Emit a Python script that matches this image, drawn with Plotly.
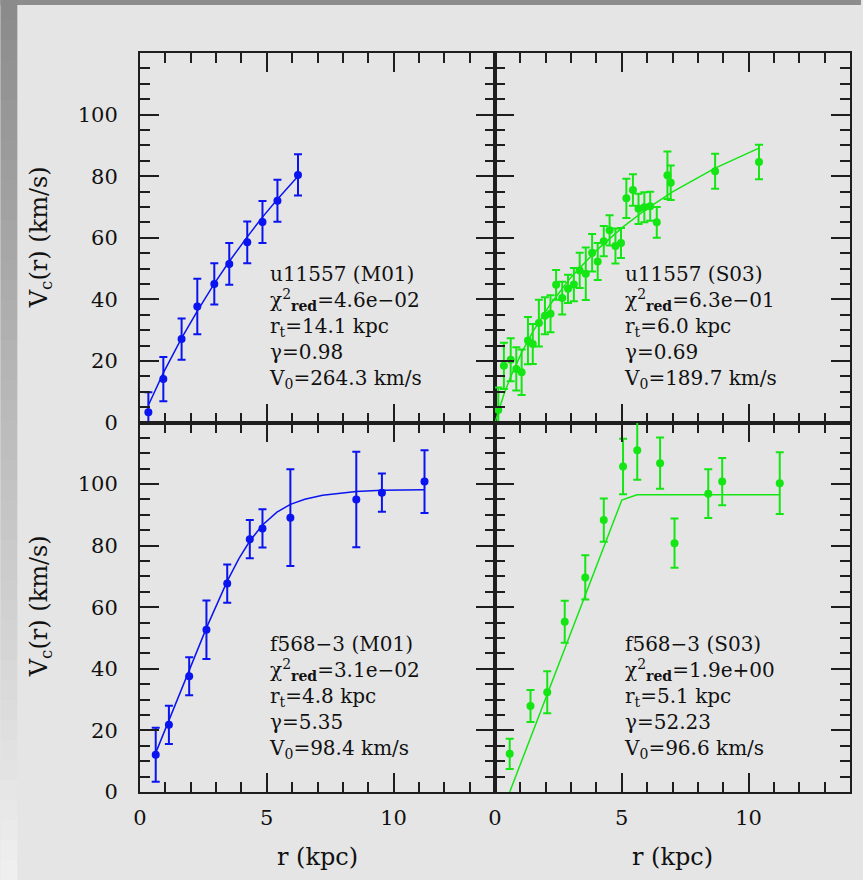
import plotly.graph_objects as go
from plotly.subplots import make_subplots

# ---------------- data ----------------
ul_r = [0.33, 0.92, 1.64, 2.26, 2.93, 3.52, 4.23, 4.83, 5.42, 6.23]
ul_v = [3.3, 14.1, 27.1, 37.7, 45.0, 51.5, 58.5, 65.1, 72.0, 80.4]
ul_e = [6.5, 7.2, 6.7, 9.0, 6.7, 6.8, 6.8, 6.8, 6.8, 6.7]
ul_fit_r = [0.33, 0.92, 1.64, 2.26, 2.93, 3.52, 4.23, 4.83, 5.42, 6.23]
ul_fit_v = [5.6, 16.1, 27.4, 36.2, 45.1, 52.3, 60.3, 66.7, 72.5, 80.0]

ur_r = [0.13, 0.35, 0.62, 0.84, 1.05, 1.30, 1.49, 1.73, 1.97, 2.19,
        2.41, 2.65, 2.88, 3.11, 3.34, 3.58, 3.83, 4.05, 4.29, 4.52,
        4.75, 4.97, 5.18, 5.44, 5.66, 5.89, 6.12, 6.38, 6.80, 6.93,
        8.68, 10.41]
ur_v = [4.1, 18.4, 20.4, 17.4, 16.3, 26.6, 25.5, 32.3, 34.7, 35.3,
        44.7, 40.4, 43.4, 44.8, 49.4, 48.3, 55.1, 52.3, 58.9, 62.4,
        57.3, 58.3, 72.8, 75.5, 69.4, 69.9, 70.2, 65.0, 80.3, 77.9,
        81.6, 84.6]
ur_e = [7.3, 7.5, 7.0, 7.0, 7.4, 7.7, 6.5, 7.6, 6.0, 6.0,
        4.8, 5.3, 4.6, 5.4, 5.7, 8.5, 6.1, 6.0, 4.9, 4.9,
        5.7, 4.9, 6.4, 5.1, 4.9, 4.9, 4.7, 5.0, 7.7, 5.6,
        5.7, 5.6]
ur_fit_r = [0.0, 0.35, 0.62, 1.05, 1.5, 2.19, 3.0, 4.0, 5.0, 6.0, 7.0, 8.68, 10.41]
ur_fit_v = [0.0, 9.1, 14.9, 22.7, 29.6, 38.5, 47.2, 55.9, 63.2, 69.5, 74.9, 82.6, 89.1]

ll_r = [0.62, 1.14, 1.94, 2.62, 3.44, 4.33, 4.83, 5.93, 8.53, 9.54, 11.22]
ll_v = [12.1, 21.8, 37.6, 52.7, 67.7, 82.1, 85.6, 89.1, 95.0, 97.2, 100.8]
ll_e = [8.8, 6.2, 6.2, 9.5, 6.2, 6.2, 6.2, 15.7, 15.5, 6.2, 10.2]
ll_fit_r = [0.62, 1.14, 1.94, 2.62, 3.44, 3.9, 4.33, 4.83, 5.4, 5.93, 6.5, 7.2, 8.53, 9.54, 11.22]
ll_fit_v = [12.7, 23.4, 39.7, 53.3, 68.5, 75.8, 81.5, 86.7, 90.9, 93.4, 95.1, 96.4, 97.6, 98.0, 98.2]

lr_r = [0.58, 1.40, 2.06, 2.75, 3.56, 4.29, 5.05, 5.61, 6.51, 7.08, 8.41, 8.96, 11.23]
lr_v = [12.4, 27.9, 32.4, 55.3, 69.7, 88.3, 105.7, 111.0, 106.8, 80.8, 96.9, 100.8, 100.3]
lr_e = [4.9, 5.2, 6.8, 6.8, 7.2, 7.0, 9.0, 9.6, 8.3, 8.0, 7.9, 7.7, 10.0]
lr_fit_r = [0.58, 5.0, 5.6, 11.23]
lr_fit_v = [0.0, 94.8, 96.5, 96.5]

ul_text = ["u11557 (M01)", "4.6e−02", "14.1 kpc", "0.98", "264.3 km/s"]
ur_text = ["u11557 (S03)", "6.3e−01", "6.0 kpc", "0.69", "189.7 km/s"]
ll_text = ["f568−3 (M01)", "3.1e−02", "4.8 kpc", "5.35", "98.4 km/s"]
lr_text = ["f568−3 (S03)", "1.9e+00", "5.1 kpc", "52.23", "96.6 km/s"]

x_ticks = [0, 5, 10]
y_ticks = [0, 20, 40, 60, 80, 100]

# ---------------- styling ----------------
BLUE = "#0a14f0"
GREEN = "#14e614"
INK = "#1e1e1e"
BG = "#e5e5e5"
FONT = "DejaVu Serif"

W, H = 863, 880
ML, MR, MT, MB = 140, 11, 53, 88

fig = make_subplots(rows=2, cols=2, horizontal_spacing=0, vertical_spacing=0)

panels = [
    (1, 1, ul_r, ul_v, ul_e, ul_fit_r, ul_fit_v, BLUE, ul_text),
    (1, 2, ur_r, ur_v, ur_e, ur_fit_r, ur_fit_v, GREEN, ur_text),
    (2, 1, ll_r, ll_v, ll_e, ll_fit_r, ll_fit_v, BLUE, ll_text),
    (2, 2, lr_r, lr_v, lr_e, lr_fit_r, lr_fit_v, GREEN, lr_text),
]

for i, (row, col, r, v, e, fr, fv, c, txt) in enumerate(panels):
    fig.add_trace(go.Scatter(x=fr, y=fv, mode="lines",
                             line=dict(color=c, width=1.5), showlegend=False,
                             hoverinfo="skip"), row=row, col=col)
    fig.add_trace(go.Scatter(x=r, y=v, mode="markers",
                             marker=dict(color=c, size=8, line=dict(width=0)),
                             error_y=dict(type="data", array=e, visible=True,
                                          color=c, thickness=2, width=4),
                             showlegend=False), row=row, col=col)
    xa = "x" if i == 0 else f"x{i+1}"
    ya = "y" if i == 0 else f"y{i+1}"
    block = "<br>".join([
        txt[0],
        "χ<sup>2</sup><sub><b>red</b></sub>=" + txt[1],
        "r<sub>t</sub>=" + txt[2],
        "γ=" + txt[3],
        "V<sub>0</sub>=" + txt[4],
    ])
    fig.add_annotation(x=5.0, y=31.0, xref=xa, yref=ya, text=block,
                       showarrow=False, xanchor="left", yanchor="middle",
                       align="left",
                       font=dict(family=FONT, size=20, color="#111"))

axis_common = dict(showgrid=False, zeroline=False, showline=True,
                   linecolor=INK, linewidth=2, mirror="allticks",
                   ticks="inside", ticklen=19, tickwidth=2, tickcolor=INK,
                   tickfont=dict(family=FONT, size=21, color="#111"))

for row in (1, 2):
    for col in (1, 2):
        fig.update_xaxes(range=[0, 14], tickmode="array", tickvals=x_ticks,
                         minor=dict(dtick=1, tick0=0, ticks="inside", ticklen=10,
                                    tickwidth=2, tickcolor=INK),
                         showticklabels=(row == 2), ticklabelstandoff=6,
                         row=row, col=col, **axis_common)
        fig.update_yaxes(range=[0, 120], tickmode="array", tickvals=y_ticks,
                         minor=dict(dtick=5, tick0=0, ticks="inside", ticklen=10,
                                    tickwidth=2, tickcolor=INK),
                         showticklabels=(col == 1), ticklabelstandoff=16,
                         row=row, col=col, **axis_common)

PW = W - ML - MR
PH = H - MT - MB


def px_x(px):
    return (px - ML) / PW


def px_y(py):
    return (H - MB - py) / PH


# axis titles
for yc in (237, 606):
    fig.add_annotation(x=px_x(40), y=px_y(yc), xref="paper", yref="paper",
                       text="V<sub>c</sub>(r) (km/s)", textangle=-90, showarrow=False,
                       xanchor="center", yanchor="middle",
                       font=dict(family=FONT, size=24, color="#111"))
for xc in (317.5, 673.5):
    fig.add_annotation(x=px_x(xc), y=px_y(857), xref="paper", yref="paper",
                       text="r (kpc)", showarrow=False,
                       xanchor="center", yanchor="middle",
                       font=dict(family=FONT, size=24, color="#111"))

# decorative frame bands (top band and left gradient band)
shapes = []
shapes.append(dict(type="rect", xref="paper", yref="paper",
                   x0=px_x(0), x1=px_x(W), y0=px_y(5), y1=px_y(0),
                   fillcolor="#8d8d8d", line=dict(width=0), layer="below"))
nseg = 44
for k in range(nseg):
    y0 = k * H / nseg
    y1 = (k + 1) * H / nseg
    t = (k + 0.5) / nseg
    g = int(round(0x8a + (0xf0 - 0x8a) * t))
    shapes.append(dict(type="rect", xref="paper", yref="paper",
                       x0=px_x(0), x1=px_x(17), y0=px_y(y1), y1=px_y(y0),
                       fillcolor=f"rgb({g},{g},{g})", line=dict(width=0),
                       layer="below"))

fig.update_layout(width=W, height=H, margin=dict(l=ML, r=MR, t=MT, b=MB),
                  paper_bgcolor=BG, plot_bgcolor=BG, shapes=shapes,
                  showlegend=False)

fig.write_html("out.html")
